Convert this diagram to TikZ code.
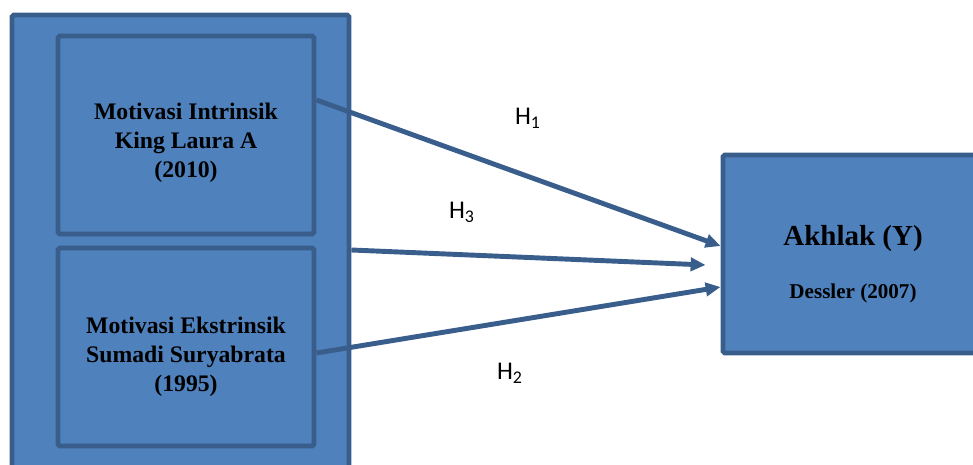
\documentclass[tikz,border=0pt]{standalone}
\usepackage{fontspec}
\setmainfont{Liberation Serif}
\newfontfamily\hfont{Carlito}
\usepackage{tikz}
\usepackage{xcolor}
\usetikzlibrary{arrows.meta}
\definecolor{boxfill}{HTML}{4F81BD}
\definecolor{boxline}{HTML}{395E8C}

\begin{document}
\begin{tikzpicture}[x=0.02cm,y=-0.02cm,
	box/.style={draw=boxline,fill=boxfill,line width=2.8pt,rounded corners=1pt,inner sep=0pt},
	boxtext/.style={align=center,inner sep=0pt,font=\bfseries\fontsize{13.5}{16.5}\selectfont},
	hyp/.style={draw=boxline,line width=2.8pt,-{Triangle[length=8.5pt,width=7.5pt]}},
	hlabel/.style={font=\hfont\fontsize{14.5}{16}\selectfont}]
			\useasboundingbox (0,0) rectangle (973,465);
			\clip (0,0) rectangle (973,465);
			\node[box,minimum width=6.74cm,minimum height=9.1cm] (outer) at (180.5,242.5) {};
			\node[box,minimum width=5.12cm,minimum height=3.96cm] (intr) at (186,135) {};
			\node[box,minimum width=5.12cm,minimum height=3.96cm] (ekst) at (186,347) {};
			\node[box,minimum width=5.2cm,minimum height=3.96cm] (akh) at (853,254) {};
			\node[boxtext] (intrtxt) at (186,143) {Motivasi Intrinsik\\King Laura A\\(2010)};
			\node[boxtext] (eksttxt) at (186,357) {Motivasi Ekstrinsik\\Sumadi Suryabrata\\(1995)};
			\node[boxtext,font=\bfseries\fontsize{16.5}{19}\selectfont] (akhtxt) at (853,239) {Akhlak (Y)};
			\node[boxtext,font=\bfseries\fontsize{12}{14}\selectfont] (dessler) at (853,293) {Dessler (2007)};
			% hypotheses
			\draw[hyp] ([yshift=0.7cm]intr.east) -- ([yshift=0.16cm]akh.west);
			\draw[hyp] ([yshift=-0.15cm]outer.east) -- ([xshift=-0.3cm,yshift=-0.22cm]akh.west);
			\draw[hyp] ([yshift=-0.12cm]ekst.east) -- ([yshift=-0.66cm]akh.west);
			\node[hlabel] (h1) at (528,118) {H\textsubscript{1}};
			\node[hlabel] (h3) at (462,212) {H\textsubscript{3}};
			\node[hlabel] (h2) at (510,373) {H\textsubscript{2}};
		\end{tikzpicture}
\end{document}
